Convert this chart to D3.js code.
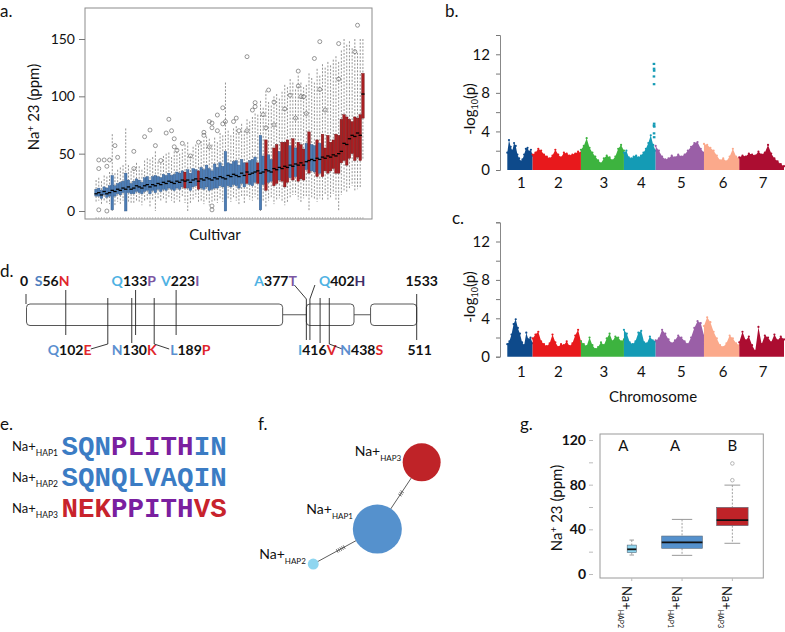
<!DOCTYPE html>
<html><head><meta charset="utf-8">
<script src="https://cdn.jsdelivr.net/npm/d3@7/dist/d3.min.js"></script>
<style>body{margin:0;background:#fff}svg{display:block}</style>
</head><body>
<svg id="fig" width="785" height="632"></svg>
<script>
// ---------------- DATA ----------------
// Panel a: per-cultivar boxplot stats (Na+ 23 ppm), sorted by median
const aMed = [15,16,14,17,15,16,18,17,19,18, 20,19,21,19,20,22,21,20,22,23, 21,23,22,24,23,25,24,26,25,24, 26,25,27,26,27,25,27,28,26,28, 27,29,28,27,29,28,30,29,28,31, 30,32,31,30,33,31,34,32,33,34, 35,33,34,36,35,34,37,36,38,37, 39,38,40,39,41,40,42,40,43,44, 45,44,46,45,47,46,48,47,49,48, 50,52,59,58,63,66,65,68,66,102];
const aQ1 = [13,13,11,14,12,13,1,13,15,14, 16,0,16,15,15,17,16,15,17,18, 15,18,16,19,17,19,18,20,19,18, 20,19,21,20,20,18,21,22,19,20, 19,21,18,19,20,20,22,21,0,22, 21,23,22,20,24,21,24,23,22,25, 24,1,23,18,25,26,22,24,27,26, 21,25,29,27,30,26,28,27,36,33, 35,34,30,33,30,35,33,35,37,33, 33,42,44,40,46,50,44,47,44,81];
const aQ3 = [19,20,18,21,20,22,31,22,24,25, 26,33,27,24,26,28,27,25,29,30, 27,30,31,30,29,32,31,33,31,32, 34,33,35,34,36,33,37,36,35,38, 36,40,37,35,41,38,42,39,52,42, 41,43,44,40,45,42,42,44,45,47, 42,66,48,62,49,45,55,58,52,60, 60,62,57,63,55,60,58,54,59,69, 58,57,62,59,67,55,66,60,62,67, 66,80,84,82,80,78,82,81,84,120];
const aLo = [8,9,6,9,7,6,0,5,8,6, 9,0,8,7,6,9,7,5,8,10, 4,9,0,10,8,10,7,11,9,6, 10,8,12,7,0,7,10,12,8,9, 6,10,5,8,9,7,11,8,0,10, 8,12,9,6,13,7,12,10,9,12, 10,0,8,4,9,12,6,10,11,9, 5,8,12,14,14,10,7,11,13,0, 12,10,8,11,9,14,10,12,15,9, 0,14,18,16,20,22,18,19,20,45];
const aHi = [27,29,26,31,30,34,67,33,36,38, 40,72,40,35,37,42,39,36,44,46, 45,47,52,43,42,48,50,51,47,52, 55,50,54,58,60,48,56,58,57,61, 62,65,63,58,64,60,68,66,112,70, 66,72,74,68,76,70,80,78,82,85, 84,96,90,105,95,92,100,102,98,104, 110,108,115,112,106,118,112,108,110,120, 116,112,124,118,128,125,130,127,132,135, 130,140,150,145,148,142,150,138,150,150];
// haplotype group of each cultivar: 0 = HAP1/HAP2 (blue), 1 = HAP3 (red)
const aGroup = [0,0,0,0,0,0,0,0,0,0, 0,0,0,0,0,0,0,0,0,0, 0,0,0,0,0,0,0,0,0,0, 0,0,0,1,0,0,0,0,1,0, 0,0,0,0,0,0,0,0,0,0, 0,0,0,0,0,0,1,0,0,0, 1,0,0,1,0,0,1,1,0,1, 1,1,0,1,0,1,1,1,0,1, 0,0,1,0,1,1,1,1,1,1, 1,1,1,1,1,1,1,1,1,1];
const cultivarIds = aMed.map((_, i) => "C" + (i + 1));
// outliers: [cultivar index, value]
const aOutliers = [[1,37],[1,44.5],[3,44.5],[4,39],[5,44.5],[7,57],[8,46.8],[14,37],[14,52],[18,64.8],[20,70.6],[22,57],[24,44],[26,68],[27,80],[28,70],[29,63],[29,56],[30,53],[32,59],[35,48],[38,60],[40,68.6],[40,66],[42,56],[42,78],[43,72.6],[43,76.7],[45,70],[45,83.7],[47,76],[47,90],[48,78],[51,78],[52,81],[53,70],[56,70],[56,134.6],[58,88],[59,94.5],[59,91],[62,84],[63,72.6],[64,105.5],[66,75],[66,95],[70,89],[72,101],[74,81],[75,122],[75,109],[76,99.7],[77,99.7],[78,85],[81,133],[83,147.7],[83,106],[85,88],[90,146],[90,115],[96,139],[97,162],[43,4.4],[43,1],[1,1],[4,0]];
const aTicks = [0, 50, 100, 150];

// Panels b, c: Manhattan plots (-log10 p)
const chromNames = ["1","2","3","4","5","6","7"];
const chromLen = [25.3, 48.3, 43.0, 31.7, 48.3, 35.3, 44.7];
const manhB = [
  [1.8,3.1,2.4,2.0,2.8,2.5,1.6,1.2,0.9,1.1,1.6,2.2,2.3,1.9,2.1,1.5],
  [1.6,1.8,2.2,2.0,1.6,1.4,1.2,1.5,2.1,1.6,1.3,1.8,1.7,1.5,1.6,1.7,1.9,1.8],
  [2.1,2.5,3.3,2.3,1.8,1.4,1.0,0.7,1.2,1.5,1.3,1.0,1.4,2.2,2.6,2.0],
  [1.8,2.0,1.3,1.2,1.4,1.5,1.3,1.5,1.8,2.2,2.8,3.6,2.6,2.0],
  [2.5,2.0,1.4,1.1,1.2,1.5,1.3,1.6,1.4,1.6,2.0,2.4,2.8,2.9,2.2,1.8],
  [2.7,2.6,2.3,2.0,1.5,1.0,1.2,0.9,1.4,2.2,1.4,1.2],
  [1.3,1.5,1.4,1.7,1.6,1.5,1.9,1.6,1.8,2.6,1.7,1.2,0.9,0.6,0.4]
];
// significant SNPs on chromosome 4: [chrom index, position, -log10 p]
const peaksB = [[3,30.0,11.0],[3,30.1,10.5],[3,30.2,10.3],[3,30.0,9.7],[3,30.1,8.9],[3,30.2,4.8],[3,30.0,4.6],[3,30.3,4.5],[3,30.1,3.8],[3,30.2,3.4]];
const manhC = [
  [1.3,1.6,2.3,3.4,3.9,3.0,2.4,1.5,1.2,2.5,1.8,2.0,1.4],
  [1.9,2.3,2.6,1.6,1.3,1.1,1.4,2.3,1.5,1.0,1.3,1.2,1.6,1.1,1.4,2.2,2.8,1.6],
  [1.6,1.3,1.1,2.0,1.2,0.8,1.0,1.5,1.2,1.9,2.4,1.6,2.1,2.0,1.6,1.8],
  [2.8,2.4,1.5,1.3,1.6,2.5,2.7,1.5,1.4,2.1,1.7,1.6],
  [1.7,1.9,2.8,2.4,1.8,1.4,1.7,2.2,2.0,1.6,1.3,2.0,3.0,3.7,3.5,2.2],
  [3.2,4.1,3.6,2.6,1.9,1.2,1.0,1.4,2.2,1.9,1.4,1.2],
  [1.5,2.6,1.7,2.1,1.2,0.6,3.1,1.3,2.2,2.0,1.5,2.3,1.7,2.1,1.8]
];
const peaksC = [];
const manhTicks = [0,2,4,6,8,10,12,14];

// Panel d: gene model
const geneLen = 1533, protLen = 511;
const exonStart = [2, 1100, 1352];
const exonEnd = [1007, 1287, 1533];
const varLabel = ["S56N","Q102E","N130K","Q133P","L189P","V223I","A377T","Q402H","I416V","N438S"];
const varPos = [156, 321, 415, 430, 503, 589, 1100, 1114, 1154, 1190];
const varSide = ["top","bottom","bottom","top","bottom","top","top","top","bottom","bottom"];
const varFirstCol = ["steel","blue","blue","light","blue","light","light","light","light","blue"];
const varLastCol = ["red","red","red","purple","red","purple","purple","dpurple","red","red"];

// Panel e/f/g: haplotypes
const haplotypes = ["HAP1","HAP2","HAP3"];
const hapSeq = ["SQNPLITHIN","SQNQLVAQIN","NEKPPITHVS"];
const hapSeqClass = ["BBBPPPPPBB","BBBBBBBBBB","RRRPPPPPRR"];
const hapCount = [60, 3, 36];
const netX = [5.18, 0.25, 8.59];
const netY = [6.08, 8.77, 0.95];
const netEdges = [["HAP1","HAP3",3],["HAP1","HAP2",5]];
const gOrder = ["HAP2","HAP1","HAP3"];
const gQ1 = [19.1, 23.0, 43.3];
const gMed = [22.1, 28.3, 48.3];
const gQ3 = [25.9, 34.0, 59.7];
const gLo = [17.0, 16.7, 27.5];
const gHi = [30.4, 48.9, 79.6];
const gOutliers = [["HAP3", 99], ["HAP3", 84]];
const gLetters = ["A","A","B"];
const gTicks = [0,20,40,60,80,100,120];

// ---------------- DRAWING ----------------
const FONT = "Lato, 'Open Sans', sans-serif";
const svg = d3.select("#fig").attr("font-family", FONT);
const C = {blueBox:"#4d7db5", blueEdge:"#2e5586", redBox:"#a81f22", redEdge:"#6a0f12",
  chrom:["#0e4a8b","#e8191c","#3db33f","#149bb5","#9a5fa7","#fba98b","#ac0d31"],
  light:"#4fb2e3", blue:"#5b8fd0", steel:"#4f7fbf", red:"#e0262c", purple:"#7b56a2", dpurple:"#3e2e68",
  seqB:"#3b7cc4", seqP:"#7a1fa0", seqR:"#c8232c",
  hap:{HAP1:"#5591cd", HAP2:"#8fd6f0", HAP3:"#bf2328"}};

function styleAxis(g, fs, bold) {
  g.attr("font-family", FONT).attr("font-size", fs);
  g.selectAll("text").attr("fill", "#111").attr("font-weight", bold ? "bold" : "normal");
  g.selectAll("line").attr("stroke", "#777");
  g.select(".domain").attr("stroke", "#888");
}
function panelLabel(t, x, y) {
  svg.append("text").attr("x", x).attr("y", y).attr("font-size", 17).attr("fill", "#111").text(t);
}

// ===== Panel a =====
const gA = svg.append("g");
const xA = d3.scaleBand().domain(cultivarIds).range([95, 364]).paddingInner(0.2);
const yA = d3.scaleLinear().domain([0, 150]).range([211, 39]);
gA.append("rect").attr("x", 85).attr("y", 8).attr("width", 287).attr("height", 211)
  .attr("fill", "none").attr("stroke", "#8c8c8c").attr("stroke-width", 1);
const aData = cultivarIds.map((id, i) => ({id, med:aMed[i], q1:aQ1[i], q3:aQ3[i], lo:aLo[i], hi:aHi[i], grp:aGroup[i]}));
const cx = d => xA(d.id) + xA.bandwidth() / 2;
gA.append("g").selectAll("line").data(aData).join("line")
  .attr("x1", cx).attr("x2", cx).attr("y1", d => yA(d.hi)).attr("y2", d => yA(d.q3))
  .attr("stroke", "#666").attr("stroke-width", 0.7).attr("stroke-dasharray", "2,1.5");
gA.append("g").selectAll("line").data(aData).join("line")
  .attr("x1", cx).attr("x2", cx).attr("y1", d => yA(d.q1)).attr("y2", d => yA(d.lo))
  .attr("stroke", "#666").attr("stroke-width", 0.7).attr("stroke-dasharray", "2,1.5");
gA.append("g").selectAll("circle").data(aOutliers).join("circle")
  .attr("cx", d => xA(cultivarIds[d[0]]) + xA.bandwidth() / 2).attr("cy", d => yA(d[1])).attr("r", 2)
  .attr("fill", "none").attr("stroke", "#555").attr("stroke-width", 0.6);
gA.append("g").selectAll("rect").data(aData).join("rect")
  .attr("x", d => xA(d.id) - 0.2).attr("width", xA.bandwidth() + 0.4)
  .attr("y", d => yA(d.q3)).attr("height", d => yA(d.q1) - yA(d.q3))
  .attr("fill", d => d.grp ? C.redBox : C.blueBox)
  .attr("stroke", d => d.grp ? C.redEdge : C.blueEdge).attr("stroke-width", 0.4);
gA.append("g").selectAll("line").data(aData).join("line")
  .attr("x1", d => xA(d.id) - 0.6).attr("x2", d => xA(d.id) + xA.bandwidth() + 0.6)
  .attr("y1", d => yA(d.med)).attr("y2", d => yA(d.med)).attr("stroke", "#000").attr("stroke-width", 1.3);
const axA = gA.append("g").attr("transform", "translate(85,0)")
  .call(d3.axisLeft(yA).tickValues(aTicks).tickSize(6).tickPadding(4));
axA.select(".domain").remove();
styleAxis(axA, 14, false);
const axAx = gA.append("g").attr("transform", "translate(0,219)")
  .call(d3.axisBottom(xA).tickSize(-2).tickFormat(""));
axAx.select(".domain").remove();
axAx.selectAll("line").attr("stroke", "#999").attr("stroke-width", 0.6);
gA.append("text").attr("transform", "translate(39,107) rotate(-90)").attr("text-anchor", "middle")
  .attr("font-size", 15).attr("fill", "#111")
  .call(t => { t.append("tspan").text("Na"); t.append("tspan").attr("dy", -5).attr("font-size", 10).text("+");
               t.append("tspan").attr("dy", 5).text(" 23 (ppm)"); });
gA.append("text").attr("x", 215).attr("y", 240).attr("text-anchor", "middle").attr("font-size", 15).attr("fill", "#111").text("Cultivar");
panelLabel("a.", 0, 17);

// ===== Panels b, c =====
const chromStart = [0, ...d3.cumsum(chromLen)].slice(0, chromLen.length);
const xM = d3.scaleLinear().domain([0, d3.sum(chromLen)]).range([507.3, 784]);
function drawManhattan(profiles, peaks, yBottom, yTop, xLabBase, ylabCenter) {
  const g = svg.append("g");
  const y = d3.scaleLinear().domain([0, 14]).range([yBottom, yTop]);
  profiles.forEach((p, c) => {
    const pts = p.map((v, k) => ({pos: chromStart[c] + k / (p.length - 1) * chromLen[c], v}));
    g.append("path").datum(pts)
      .attr("d", d3.area().x(d => xM(d.pos)).y0(y(0)).y1(d => y(d.v)))
      .attr("fill", C.chrom[c]);
    g.append("g").selectAll("circle").data(pts).join("circle")
      .attr("cx", d => xM(d.pos)).attr("cy", d => y(d.v)).attr("r", 1.1).attr("fill", C.chrom[c]);
  });
  g.append("g").selectAll("rect").data(peaks).join("rect")
    .attr("x", d => xM(chromStart[d[0]] + d[1]) - 1.3).attr("y", d => y(d[2]) - 1.1)
    .attr("width", 2.6).attr("height", 2.2).attr("fill", C.chrom[3]);
  const ax = g.append("g").attr("transform", "translate(500,0)")
    .call(d3.axisLeft(y).tickValues(manhTicks).tickSize(4).tickPadding(6).tickFormat(d => d % 4 === 0 ? d : ""));
  styleAxis(ax, 15, false);
  g.append("g").selectAll("text").data(chromNames).join("text")
    .attr("x", (d, i) => xM(chromStart[i] + chromLen[i] / 2) + 1.5).attr("y", xLabBase)
    .attr("text-anchor", "middle").attr("font-size", 15).attr("fill", "#111").text(d => d);
  g.append("text").attr("transform", `translate(475,${ylabCenter}) rotate(-90)`).attr("text-anchor", "middle")
    .attr("font-size", 15).attr("fill", "#111")
    .call(t => { t.append("tspan").text("-log"); t.append("tspan").attr("dy", 3).attr("font-size", 9).text("10");
                 t.append("tspan").attr("dy", -3).text("(p)"); });
}
drawManhattan(manhB, peaksB, 170, 35, 188, 109);
drawManhattan(manhC, peaksC, 356.7, 222.3, 377, 297);
svg.append("text").attr("x", 653).attr("y", 402).attr("text-anchor", "middle").attr("font-size", 15).attr("fill", "#111").text("Chromosome");
panelLabel("b.", 445, 17);
panelLabel("c.", 452, 224);

// ===== Panel d =====
const gD = svg.append("g");
const xD = d3.scaleLinear().domain([0, geneLen]).range([26, 416.7]);
const exY = 304, exH = 21.5, midY = exY + exH / 2;
gD.selectAll("line.intron").data(exonEnd.slice(0, -1)).join("line")
  .attr("x1", d => xD(d)).attr("x2", (d, i) => xD(exonStart[i + 1])).attr("y1", midY).attr("y2", midY)
  .attr("stroke", "#444").attr("stroke-width", 0.9);
gD.selectAll("rect").data(exonStart).join("rect")
  .attr("x", d => xD(d)).attr("width", (d, i) => xD(exonEnd[i]) - xD(d)).attr("y", exY).attr("height", exH)
  .attr("rx", 3.5).attr("fill", "#fff").attr("stroke", "#444").attr("stroke-width", 0.9);
const lineStyle = s => s.attr("fill", "none").attr("stroke", "#222").attr("stroke-width", 0.9);
gD.append("line").attr("x1", xD(0)).attr("x2", xD(0)).attr("y1", 294).attr("y2", exY).call(lineStyle);
gD.append("line").attr("x1", xD(geneLen)).attr("x2", xD(geneLen)).attr("y1", 294).attr("y2", 340).call(lineStyle);
// layout of variant labels (offsets from the variant line, in px)
const varLayout = {
  S56N:{dx:-31, elbow:0}, Q133P:{dx:-24, elbow:0}, V223I:{dx:-15, elbow:0},
  A377T:{dx:-52, elbow:-12}, Q402H:{dx:9, elbow:5},
  Q102E:{dx:-60, elbow:-17}, N130K:{dx:-20, elbow:0}, L189P:{dx:16, elbow:15},
  I416V:{dx:-22, elbow:0}, N438S:{dx:11, elbow:13}};
varLabel.forEach((lab, i) => {
  const x = xD(varPos[i]), L = varLayout[lab];
  let pts;
  if (varSide[i] === "top") {
    pts = L.elbow ? [[x + L.elbow, 285], [x, 299], [x, 340]] : [[x, 290], [x, 335]];
  } else {
    pts = L.elbow ? [[x, 298], [x, 344], [x + L.elbow, 349]] : [[x, 298], [x, 343]];
  }
  gD.append("path").attr("d", d3.line()(pts)).call(lineStyle);
  const ty = varSide[i] === "top" ? 286 : 355;
  const t = gD.append("text").attr("x", x + L.dx).attr("y", ty).attr("font-size", 14).attr("font-weight", "bold");
  t.append("tspan").attr("fill", C[varFirstCol[i]]).text(lab[0]);
  t.append("tspan").attr("fill", "#111").text(lab.slice(1, -1));
  t.append("tspan").attr("fill", C[varLastCol[i]]).text(lab.slice(-1));
});
gD.append("text").attr("x", xD(0) - 2).attr("y", 286).attr("text-anchor", "middle").attr("font-size", 14).attr("font-weight", "bold").attr("fill", "#111").text("0");
gD.append("text").attr("x", xD(geneLen) + 5).attr("y", 286).attr("text-anchor", "middle").attr("font-size", 14).attr("font-weight", "bold").attr("fill", "#111").text(geneLen);
gD.append("text").attr("x", xD(geneLen) + 3).attr("y", 355).attr("text-anchor", "middle").attr("font-size", 14).attr("font-weight", "bold").attr("fill", "#111").text(protLen);
panelLabel("d.", 0, 277);

// ===== Panel e =====
const yE = d3.scalePoint().domain(haplotypes).range([455, 517]);
const seqCol = {B: C.seqB, P: C.seqP, R: C.seqR};
haplotypes.forEach((h, i) => {
  const t = svg.append("text").attr("x", 12).attr("y", yE(h) - 4).attr("font-size", 13).attr("fill", "#111");
  t.append("tspan").text("Na+");
  t.append("tspan").attr("dy", 5).attr("font-size", 8.5).text(h);
  const s = svg.append("text").attr("x", 61.5).attr("y", yE(h)).attr("font-family", "'Liberation Mono','DejaVu Sans Mono',monospace")
    .attr("font-size", 27.5).attr("font-weight", "bold");
  hapSeq[i].split("").forEach((ch, k) => s.append("tspan").attr("fill", seqCol[hapSeqClass[i][k]]).text(ch));
});
panelLabel("e.", 0, 430);

// ===== Panel f =====
const gF = svg.append("g");
const xN = d3.scaleLinear().domain([0, 10]).range([310, 440]);
const yN = d3.scaleLinear().domain([0, 10]).range([450, 580]);
const rN = d3.scaleSqrt().domain([0, 60]).range([0, 24.5]);
const nodes = haplotypes.map((h, i) => ({h, x: xN(netX[i]), y: yN(netY[i]), r: rN(hapCount[i])}));
const nodeBy = Object.fromEntries(nodes.map(n => [n.h, n]));
netEdges.forEach(([a, b, k]) => {
  const A = nodeBy[a], B = nodeBy[b];
  gF.append("line").attr("x1", A.x).attr("y1", A.y).attr("x2", B.x).attr("y2", B.y).attr("stroke", "#333").attr("stroke-width", 0.8);
  const dx = B.x - A.x, dy = B.y - A.y, len = Math.hypot(dx, dy), ux = dx / len, uy = dy / len;
  const sx = A.x + ux * A.r, sy = A.y + uy * A.r, ex = B.x - ux * B.r, ey = B.y - uy * B.r;
  const t0 = a === "HAP1" && b === "HAP2" ? 0.4 : 0.5;
  const mx = sx + (ex - sx) * t0, my = sy + (ey - sy) * t0;
  d3.range(k).forEach(j => {
    const off = (j - (k - 1) / 2) * 2;
    const px = mx + ux * off, py = my + uy * off;
    gF.append("line").attr("x1", px - uy * 2).attr("y1", py + ux * 2).attr("x2", px + uy * 2).attr("y2", py - ux * 2)
      .attr("stroke", "#333").attr("stroke-width", 0.7);
  });
});
gF.selectAll("circle").data(nodes).join("circle").attr("cx", d => d.x).attr("cy", d => d.y).attr("r", d => d.r)
  .attr("fill", d => C.hap[d.h]);
const netLab = {HAP1:[-71, -15], HAP2:[-54, -5], HAP3:[-67, -6]};
nodes.forEach(n => {
  const t = gF.append("text").attr("x", n.x + netLab[n.h][0]).attr("y", n.y + netLab[n.h][1]).attr("font-size", 14).attr("fill", "#111");
  t.append("tspan").text("Na+");
  t.append("tspan").attr("dy", 5).attr("font-size", 8).text(n.h);
});
panelLabel("f.", 258, 430);

// ===== Panel g =====
const gG = svg.append("g");
const yG = d3.scaleLinear().domain([0, 120]).range([574, 440]);
const xG = d3.scaleBand().domain(gOrder).range([606.6, 757.5]);
const wG = d3.scaleSqrt().domain([0, 60]).range([0, 40.7]);
gG.append("rect").attr("x", 600).attr("y", 434).attr("width", 163.3).attr("height", 144)
  .attr("fill", "none").attr("stroke", "#9a9a9a");
const gData = gOrder.map((h, i) => ({h, q1:gQ1[i], med:gMed[i], q3:gQ3[i], lo:gLo[i], hi:gHi[i],
  w: wG(hapCount[haplotypes.indexOf(h)]), letter: gLetters[i]}));
const gx = d => xG(d.h) + xG.bandwidth() / 2;
gG.selectAll("line.wh").data(gData.flatMap(d => [[d, d.hi, d.q3], [d, d.q1, d.lo]])).join("line")
  .attr("x1", d => gx(d[0])).attr("x2", d => gx(d[0])).attr("y1", d => yG(d[1])).attr("y2", d => yG(d[2]))
  .attr("stroke", "#888").attr("stroke-width", 0.8).attr("stroke-dasharray", "2,1.5");
gG.selectAll("line.cap").data(gData.flatMap(d => [[d, d.hi], [d, d.lo]])).join("line")
  .attr("x1", d => gx(d[0]) - d[0].w / 4).attr("x2", d => gx(d[0]) + d[0].w / 4)
  .attr("y1", d => yG(d[1])).attr("y2", d => yG(d[1])).attr("stroke", "#999").attr("stroke-width", 1);
gG.selectAll("rect.box").data(gData).join("rect")
  .attr("x", d => gx(d) - d.w / 2).attr("width", d => d.w).attr("y", d => yG(d.q3)).attr("height", d => yG(d.q1) - yG(d.q3))
  .attr("fill", d => C.hap[d.h]).attr("stroke", "#5a6b7a").attr("stroke-width", 0.6);
gG.selectAll("line.med").data(gData).join("line")
  .attr("x1", d => gx(d) - d.w / 2).attr("x2", d => gx(d) + d.w / 2).attr("y1", d => yG(d.med)).attr("y2", d => yG(d.med))
  .attr("stroke", "#111").attr("stroke-width", 1.8);
gG.selectAll("circle").data(gOutliers).join("circle")
  .attr("cx", d => xG(d[0]) + xG.bandwidth() / 2).attr("cy", d => yG(d[1])).attr("r", 1.8)
  .attr("fill", "none").attr("stroke", "#999").attr("stroke-width", 0.7);
const letterDx = {HAP2: -8.5, HAP1: -7, HAP3: 0};
gG.selectAll("text.let").data(gData).join("text").attr("x", d => gx(d) + letterDx[d.h]).attr("text-anchor", "middle")
  .attr("y", 451).attr("font-size", 15).attr("fill", "#111").text(d => d.letter);
const axG = gG.append("g").attr("transform", "translate(593,0)")
  .call(d3.axisLeft(yG).tickValues(gTicks).tickSize(4).tickPadding(3).tickFormat(d => d % 40 === 0 ? d : ""));
axG.select(".domain").remove();
styleAxis(axG, 14, true);
axG.selectAll("line").attr("stroke", "#bbb");
const axGx = gG.append("g").attr("transform", "translate(0,578)").call(d3.axisBottom(xG).tickSize(3).tickFormat(""));
axGx.select(".domain").remove();
axGx.selectAll("line").attr("stroke", "#bbb");
gData.forEach(d => {
  const t = gG.append("text").attr("transform", `translate(${gx(d) - 10},586) rotate(90)`).attr("font-size", 13).attr("fill", "#111");
  t.append("tspan").text("Na+");
  t.append("tspan").attr("dy", 4).attr("font-size", 7).text(d.h);
});
gG.append("text").attr("transform", "translate(562,508) rotate(-90)").attr("text-anchor", "middle")
  .attr("font-size", 15).attr("fill", "#111")
  .call(t => { t.append("tspan").text("Na"); t.append("tspan").attr("dy", -5).attr("font-size", 10).text("+");
               t.append("tspan").attr("dy", 5).text(" 23 (ppm)"); });
panelLabel("g.", 520, 430);
</script>
</body></html>
